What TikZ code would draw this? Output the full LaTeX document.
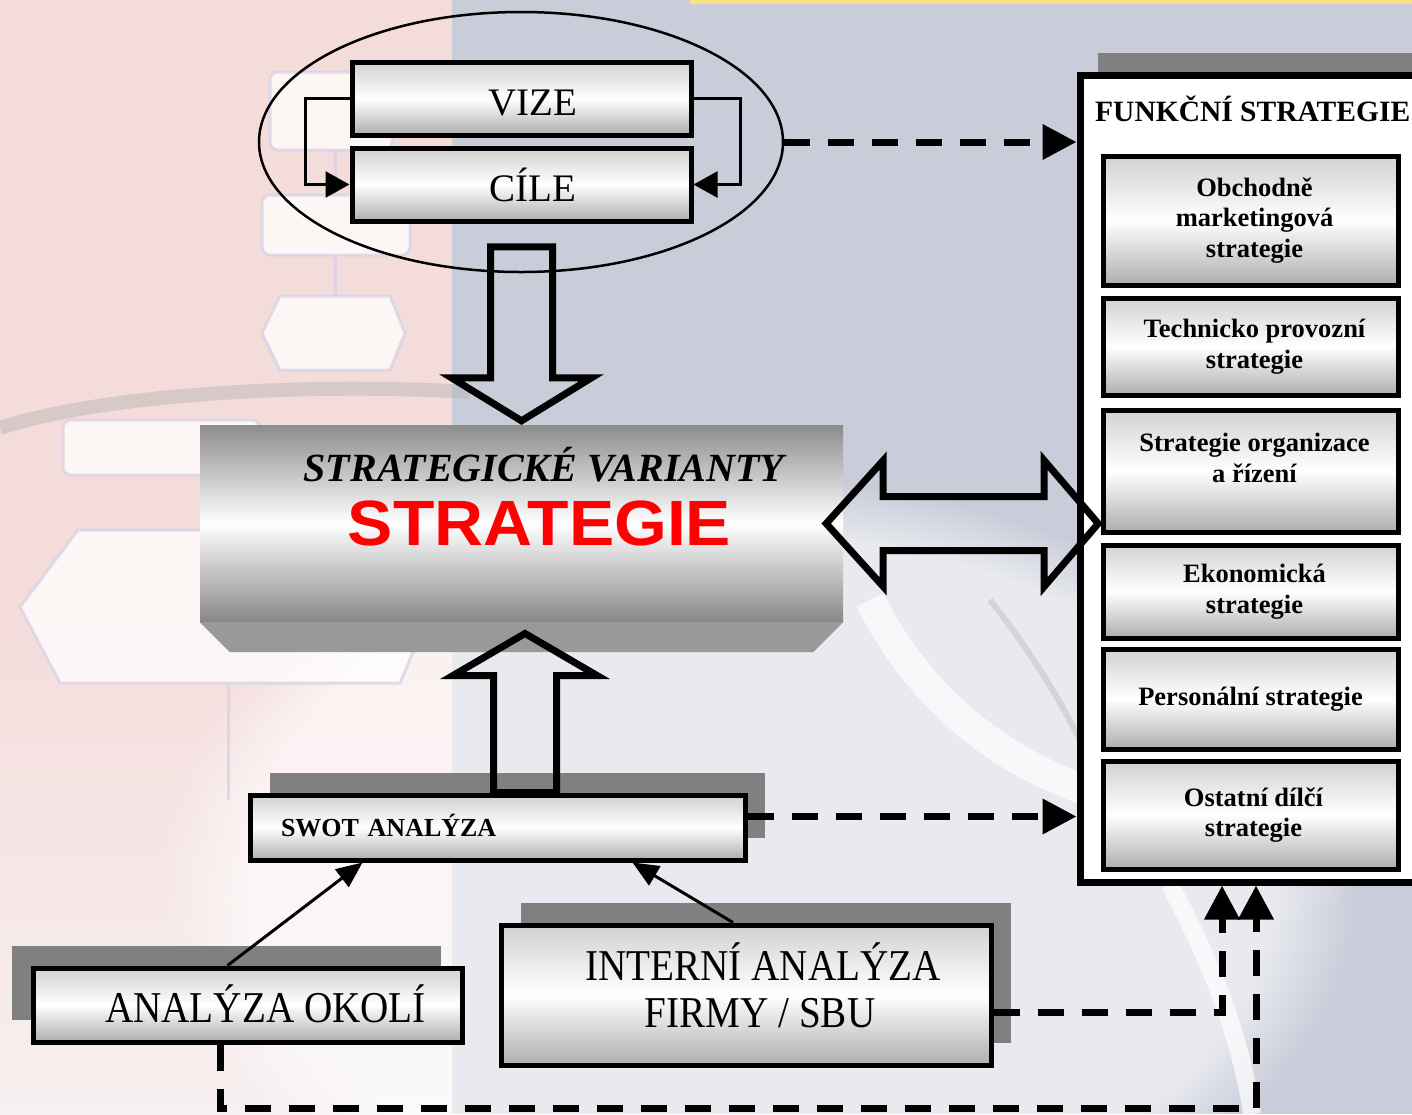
\documentclass[tikz,border=0pt]{standalone}
\usepackage{fontspec}
\setmainfont{Liberation Serif}
\newfontfamily\arialfont[FakeStretch=1.06]{Liberation Sans}
\newfontfamily\schmalfont[FakeStretch=0.89]{Liberation Serif}
\usepackage{tikz}
\usetikzlibrary{positioning, shapes.geometric, arrows.meta, calc, shadows, fadings}

\definecolor{hgblau}{HTML}{C9CCD9}
\definecolor{hgrosa}{HTML}{F4DCDB}
\definecolor{hgrosahell}{HTML}{F7F0F0}
\definecolor{geist}{HTML}{D4D2E8}

\begin{document}
\begin{tikzpicture}[x=1pt, y=-1pt,
                kasten/.style={draw=black, line width=5pt, rectangle, inner sep=0pt, top color=black!18, bottom color=black!32, middle color=white},
                zielbox/.style={kasten, minimum width=339pt, minimum height=73pt, font=\fontsize{39}{47}\selectfont, text height=35pt, text depth=2pt},
                fbox/.style={kasten, minimum width=295pt, font=\fontsize{26.5}{30.5}\selectfont\bfseries, align=center},
                ftext/.style={font=\fontsize{26.5}{30.5}\selectfont\bfseries, align=center},
                abox/.style={kasten, font=\schmalfont\fontsize{44}{40}\selectfont},
                atext/.style={font=\schmalfont\fontsize{44}{40}\selectfont, anchor=base},
                schatten/.style={drop shadow={shadow xshift=20pt, shadow yshift=22pt, opacity=1, fill=black!50}},
                rueck/.style={line width=2.5pt, -{Triangle[length=24pt,width=26pt]}},
                gestrichelt/.style={line width=7pt, dash pattern=on 26pt off 18pt, -{Triangle[length=34pt,width=34pt]}},
                pfeil/.style={line width=3pt, -{Triangle[length=26pt,width=22pt]}},
                hohlpfeil/.style={draw=black, line width=7pt, line join=miter}
            ]
            \useasboundingbox (0,0) rectangle (1412,1114);
            \clip (0,0) rectangle (1412,1114);

            % Hintergrund
            \fill[hgblau] (0,0) rectangle (1412,1114);
            \fill[hgrosa] (0,0) rectangle (452,600);
            \shade[top color=hgrosa, bottom color=hgrosahell] (0,600) rectangle (452,1114);
            \fill[white, opacity=.6, path fading=circle with fuzzy edge 15 percent] (760,880) ellipse (600 and 400);
            \fill[yellow!55!orange!45] (690,0) rectangle (1412,4);
            \draw[black!30, line width=14pt, opacity=.45] (0,428) .. controls (100,395) and (300,382) .. (470,392);
            \begin{scope}[draw=geist, line width=3pt, fill=white, opacity=.75]
                \filldraw[rounded corners=8pt] (270,72) rectangle (392,150);
                \filldraw[rounded corners=8pt] (262,195) rectangle (410,255);
                \filldraw (280,296) -- (390,296) -- (405,333) -- (390,370) -- (280,370) -- (262,333) -- cycle;
                \filldraw[rounded corners=8pt] (63,420) rectangle (260,475);
                \filldraw (78,530) -- (420,530) -- (435,600) -- (400,683) -- (60,683) -- (20,607) -- cycle;
                \draw (335,150) -- (335,195) (335,255) -- (335,296) (228,683) -- (228,800);
            \end{scope}
            \draw[white, line width=30pt, opacity=.7] (870,600) .. controls (920,700) and (1000,760) .. (1085,790);
            \draw[black!25, line width=6pt, opacity=.5] (990,600) .. controls (1030,650) and (1060,700) .. (1080,740);
            \draw[white, line width=18pt, opacity=.7] (1170,885) .. controls (1205,950) and (1240,1030) .. (1252,1114);

            % Vize und Ziele
            \node[draw=black, line width=2.5pt, ellipse, minimum width=524pt, minimum height=260pt] (ziele) at (521,142) {};
            \node[zielbox] (vize) at (521.5,98.5) {\hspace*{22pt}VIZE};
            \node[zielbox, below=8pt of vize] (cile) {\hspace*{22pt}CÍLE};

            % Strategie
            \node[rectangle, minimum width=643pt, minimum height=197pt, inner sep=0pt, top color=black!45, bottom color=black!47, middle color=white] (strat) at (521.5,523.5) {};
            \fill[black!40] (strat.south west) -- (strat.south east) -- ++(-30,30) -- ([shift={(30,30)}]strat.south west) -- cycle;
            \node[font=\fontsize{40}{48}\selectfont\bfseries\itshape, anchor=base] (varianten) at (544,481) {STRATEGICKÉ VARIANTY};
            \node[font=\arialfont\fontsize{64}{70}\selectfont\bfseries, text=red, anchor=base] (strategie) at (539.5,545) {STRATEGIE};

            % Funkcni strategie
            \node[draw=black, line width=7pt, fill=white, minimum width=345pt, minimum height=807pt, drop shadow={shadow xshift=18pt, shadow yshift=22pt, opacity=1, fill=black!50}] (funkcni) at (1252.5,478.5) {};
            \node[font=\fontsize{29.5}{34}\selectfont\bfseries, anchor=base west, inner xsep=0pt] (titel) at (1095,121) {FUNKČNÍ STRATEGIE};
            \node[fbox, minimum height=129pt] (obchod) at (1250.5,220.5) {\hspace*{8pt}Obchodně\\\hspace*{8pt}marketingová\\\hspace*{8pt}strategie};
            \node[fbox, minimum height=97pt, below=8pt of obchod] (techn) {\hspace*{8pt}Technicko provozní\\\hspace*{8pt}strategie};
            \node[fbox, minimum height=122pt, below=10pt of techn] (organ) {};
            \node[ftext] (organtext) at ([shift={(4,-13)}]organ.center) {Strategie organizace\\a řízení};
            \node[fbox, minimum height=93pt, below=8pt of organ] (ekon) {\hspace*{8pt}Ekonomická\\\hspace*{8pt}strategie};
            \node[fbox, minimum height=100pt, below=6pt of ekon] (person) {Personální strategie};
            \node[fbox, minimum height=108pt, below=7pt of person] (ostat) {\hspace*{6pt}Ostatní dílčí\\\hspace*{6pt}strategie};

            % Analyzy
            \node[kasten, minimum width=495pt, minimum height=65pt, schatten, font=\fontsize{26}{30}\selectfont\bfseries, text width=433pt, inner xsep=31pt, align=left, text height=19pt, text depth=2pt] (swot) at (497.5,827.5) {SWOT ANALÝZA};
            \node[abox, minimum width=429pt, minimum height=74pt, drop shadow={shadow xshift=-21pt, shadow yshift=22pt, opacity=1, fill=black!50}, text height=36pt, text depth=2pt] (okoli) at (247.5,1005) {\hspace*{36pt}ANALÝZA OKOLÍ};
            \node[abox, minimum width=490pt, minimum height=140pt, schatten] (intern) at (746,995) {};
            \node[atext] (intern1) at (763,980) {INTERNÍ ANALÝZA};
            \node[atext] (intern2) at (760,1027) {FIRMY / SBU};

            % Kanten zwischen Knoten
            \draw[rueck] (vize.west) -- ++(-44,0) |- (cile.west);
            \draw[rueck] (vize.east) -- ++(47,0) |- (cile.east);

            \draw[hohlpfeil] ([yshift=4pt]strat.north) -- ++(-70,-43) -- ++(39,0) -- ++(0,-131) -- ++(62,0) -- ++(0,131) -- ++(39,0) -- cycle;

            \draw[hohlpfeil] ([xshift=-4pt]swot.north) -- ++(0,-117) -- ++(-40.5,0) -- ++(72,-42) -- ++(72,42) -- ++(-40.5,0) -- ++(0,117) -- cycle;

            \draw[hohlpfeil] ([xshift=-17pt]strat.east) -- ++(57,-63) -- ++(0,36) -- ++(161,0) -- ++(0,-36) -- ++(54,63) -- ++(-54,63) -- ++(0,-36) -- ++(-161,0) -- ++(0,36) -- cycle;

            \draw[gestrichelt] (ziele.east) -- (ziele.east -| funkcni.west);

            \draw[gestrichelt] ([yshift=11pt]swot.east) -- ([yshift=11pt]swot.east -| funkcni.west);

            \draw[pfeil] ([xshift=-20pt]okoli.north) -- ([xshift=-135pt]swot.south);

            \draw[pfeil] ([xshift=-13pt]intern.north) -- ([xshift=135pt]swot.south);

            \draw[gestrichelt] ([yshift=-17pt]intern.east) -| ([xshift=-30.5pt]funkcni.south);

            \coordinate (ecke) at (1256,1108);
            \draw[gestrichelt] ([xshift=-27.5pt]okoli.south) |- (ecke) -- ([xshift=3.5pt]funkcni.south);

        \end{tikzpicture}
\end{document}
